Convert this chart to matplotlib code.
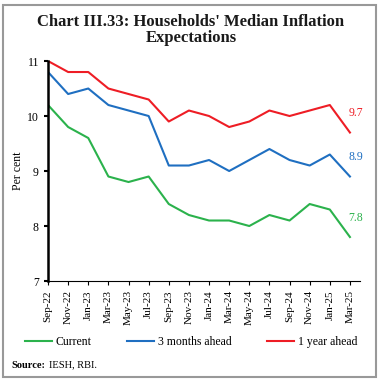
import matplotlib.pyplot as plt
from matplotlib.patches import Rectangle

months = ["Sep-22", "Nov-22", "Jan-23", "Mar-23", "May-23", "Jul-23", "Sep-23", "Nov-23",
          "Jan-24", "Mar-24", "May-24", "Jul-24", "Sep-24", "Nov-24", "Jan-25", "Mar-25"]
current = [10.2, 9.8, 9.6, 8.9, 8.8, 8.9, 8.4, 8.2, 8.1, 8.1, 8.0, 8.2, 8.1, 8.4, 8.3, 7.8]
three_month = [10.8, 10.4, 10.5, 10.2, 10.1, 10.0, 9.1, 9.1, 9.2, 9.0, 9.2, 9.4, 9.2, 9.1, 9.3, 8.9]
one_year = [11.0, 10.8, 10.8, 10.5, 10.4, 10.3, 9.9, 10.1, 10.0, 9.8, 9.9, 10.1, 10.0, 10.1, 10.2, 9.7]

plt.rcParams['font.family'] = ['Liberation Serif', 'DejaVu Serif']

fig = plt.figure(figsize=(3.82, 3.84), dpi=100)
ax = fig.add_axes([0.1257, 0.2682, 0.8167, 0.5729])

x = list(range(len(months)))
green, blue, red = '#2bb24c', '#1f6fc1', '#ee1d25'
ax.plot(x, current, color=green, lw=1.5, label='Current')
ax.plot(x, three_month, color=blue, lw=1.5, label='3 months ahead')
ax.plot(x, one_year, color=red, lw=1.5, label='1 year ahead')

# end labels
ax.text(x[-1] + 0.3, one_year[-1] + 0.35, f"{one_year[-1]}", color=red, fontsize=8.5, ha='center', va='center')
ax.text(x[-1] + 0.3, three_month[-1] + 0.35, f"{three_month[-1]}", color=blue, fontsize=8.5, ha='center', va='center')
ax.text(x[-1] + 0.3, current[-1] + 0.35, f"{current[-1]}", color=green, fontsize=8.5, ha='center', va='center')

ax.set_xlim(0, 15.5)
ax.set_ylim(7, 11)
ax.set_yticks([7, 8, 9, 10, 11])
ax.set_xticks(x)
ax.set_xticklabels(months, rotation=90, fontsize=8)
ax.tick_params(axis='y', labelsize=8.5, length=3, width=1.5)
ax.tick_params(axis='x', length=3, width=0.8)
ax.set_ylabel("Per cent", fontsize=8.5, labelpad=2)

for s in ['top', 'right']:
    ax.spines[s].set_visible(False)
ax.spines['left'].set_linewidth(1.8)
ax.spines['bottom'].set_linewidth(0.8)

fig.text(0.5, 0.922, "Chart III.33: Households' Median Inflation\nExpectations",
         ha='center', va='center', fontsize=12, fontweight='bold', linespacing=1.05,
         color='#1a1a1a')

fig.legend(loc='center', bbox_to_anchor=(0.5, 0.109), ncol=3, frameon=False,
           fontsize=8.5, handlelength=2.3, columnspacing=3.0, handletextpad=0.3)

fig.text(0.031, 0.049, "Source:", fontsize=7.5, fontweight='bold', va='center')
fig.text(0.127, 0.049, "IESH, RBI.", fontsize=7.5, va='center')

fig.patches.append(Rectangle((0.008, 0.018), 0.977, 0.97, transform=fig.transFigure,
                             fill=False, edgecolor='#999999', lw=1.5))

fig.savefig("out.png", dpi=100)
